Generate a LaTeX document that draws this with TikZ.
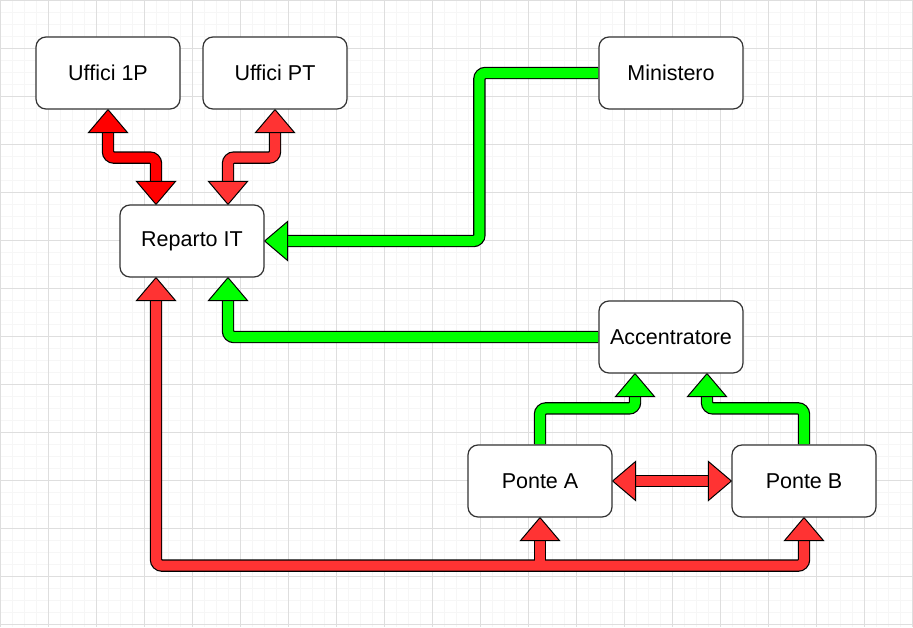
\documentclass[tikz,border=0pt]{standalone}
\usepackage{fontspec}
\setmainfont{Liberation Sans}
\usetikzlibrary{calc}
\definecolor{redA}{HTML}{FF0000}
\definecolor{redB}{HTML}{FF3333}
\definecolor{grn}{HTML}{00FF00}
\definecolor{boxline}{HTML}{333333}
\pgfdeclarelayer{bg}
\pgfdeclarelayer{mid}
\pgfsetlayers{bg,mid,main}
\newcommand{\headD}[2]{\filldraw[headst,fill=#2] (#1) -- ++(-19.5,-23) -- ++(39,0) -- cycle;}
\newcommand{\headU}[2]{\filldraw[headst,fill=#2] (#1) -- ++(-19.5,23) -- ++(39,0) -- cycle;}
\newcommand{\headL}[2]{\filldraw[headst,fill=#2] (#1) -- ++(23,-19.5) -- ++(0,39) -- cycle;}
\newcommand{\headR}[2]{\filldraw[headst,fill=#2] (#1) -- ++(-23,-19.5) -- ++(0,39) -- cycle;}
\tikzset{
  box/.style={draw=boxline, line width=1.2pt, fill=white, rounded corners=10pt,
    minimum width=144pt, minimum height=72pt, inner sep=0pt,
    font=\fontsize{21.5}{25}\selectfont},
  shout/.style={line width=12.4pt, draw=black, rounded corners=6pt},
  shin/.style={line width=10pt, rounded corners=6pt},
  headst/.style={draw=black, line width=1pt, line join=miter},
  gridmin/.style={draw=black!3.5, line width=0.8pt},
  gridmaj/.style={draw=black!13, line width=0.8pt}
}
\begin{document}
\begin{tikzpicture}[x=1pt,y=-1pt]
\useasboundingbox (0,0) rectangle (913,627);
\begin{pgfonlayer}{bg}
\fill[white] (0,0) rectangle (913,627);
\foreach \i in {0,12,...,912} \draw[gridmin] (\i,0) -- (\i,627);
\foreach \j in {0,12,...,624} \draw[gridmin] (0,\j) -- (913,\j);
\foreach \i in {0,48,...,912} \draw[gridmaj] (\i,0) -- (\i,627);
\foreach \j in {0,48,...,624} \draw[gridmaj] (0,\j) -- (913,\j);
\end{pgfonlayer}

\node[box] (u1p) at (108,73) {Uffici 1P};
\node[box] (upt) at (275,73) {Uffici PT};
\node[box] (rep) at (192,241) {Reparto IT};
\node[box] (min) at (671,73) {Ministero};
\node[box] (acc) at (671,337) {Accentratore};
\node[box] (pa) at (540,481) {Ponte A};
\node[box] (pb) at (804,481) {Ponte B};

\coordinate (a1) at ([yshift=-21pt]u1p.south);
\coordinate (a2) at ([xshift=-36pt,yshift=21pt]rep.north);
\coordinate (b1) at ([yshift=-21pt]upt.south);
\coordinate (b2) at ([xshift=36pt,yshift=21pt]rep.north);
\coordinate (c2) at ([xshift=21pt]rep.east);
\coordinate (d2) at ([xshift=36pt,yshift=-21pt]rep.south);
\coordinate (e2) at ([xshift=-36pt,yshift=-21pt]acc.south);
\coordinate (f2) at ([xshift=36pt,yshift=-21pt]acc.south);
\coordinate (g1) at ([xshift=21pt]pa.east);
\coordinate (g2) at ([xshift=-21pt]pb.west);
\coordinate (h1) at ([xshift=-36pt,yshift=-21pt]rep.south);
\coordinate (h2) at ([yshift=-21pt]pb.south);
\coordinate (k1) at ([yshift=-21pt]pa.south);

\begin{pgfonlayer}{mid}
% outlines
\draw[shout] (a1) -- ++(0,27) -| (a2);
\draw[shout] (b1) -- ++(0,27) -| (b2);
\draw[shout] (min.west) -- ++(-119,0) |- (c2);
\draw[shout] (acc.west) -| (d2);
\draw[shout] (pa.north) -- ++(0,-36) -| (e2);
\draw[shout] (pb.north) -- ++(0,-36) -| (f2);
\draw[shout] (g1) -- (g2);
\draw[shout] (h1) -- ++(0,267) -| (h2);
\draw[shout] (k1) -- ++(0,27);
% fills
\draw[shin, draw=redA] (a1) -- ++(0,27) -| (a2);
\draw[shin, draw=redB] (b1) -- ++(0,27) -| (b2);
\draw[shin, draw=grn] (min.west) -- ++(-119,0) |- (c2);
\draw[shin, draw=grn] (acc.west) -| (d2);
\draw[shin, draw=grn] (pa.north) -- ++(0,-36) -| (e2);
\draw[shin, draw=grn] (pb.north) -- ++(0,-36) -| (f2);
\draw[shin, draw=redB] (g1) -- (g2);
\draw[shin, draw=redB] (h1) -- ++(0,267) -| (h2);
\draw[shin, draw=redB] (k1) -- ++(0,27);
% heads
\headU{u1p.south}{redA}
\headD{[xshift=-36pt]rep.north}{redA}
\headU{upt.south}{redB}
\headD{[xshift=36pt]rep.north}{redB}
\headL{rep.east}{grn}
\headU{[xshift=36pt]rep.south}{grn}
\headU{[xshift=-36pt]acc.south}{grn}
\headU{[xshift=36pt]acc.south}{grn}
\headL{pa.east}{redB}
\headR{pb.west}{redB}
\headU{[xshift=-36pt]rep.south}{redB}
\headU{pa.south}{redB}
\headU{pb.south}{redB}
\end{pgfonlayer}
\end{tikzpicture}
\end{document}
